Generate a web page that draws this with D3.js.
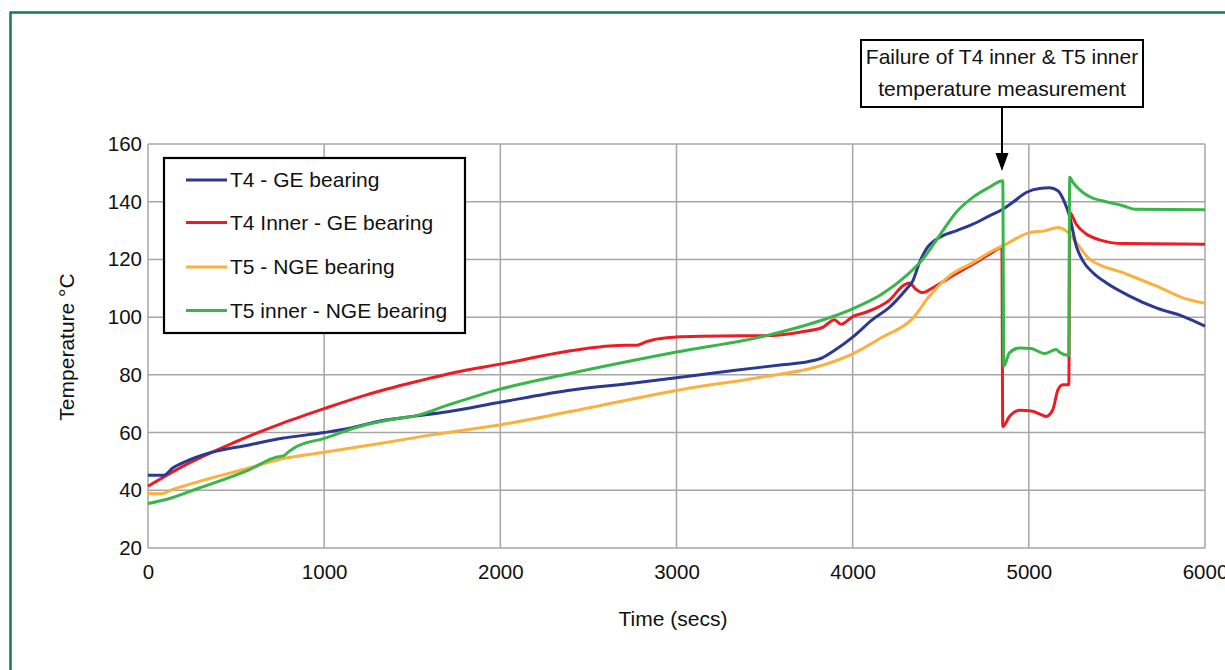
<!DOCTYPE html>
<html><head><meta charset="utf-8">
<script src="https://cdn.jsdelivr.net/npm/d3@7"></script>
<style>body{margin:0;background:#fff}svg{display:block;font-family:"Liberation Sans",Arial,sans-serif}</style>
</head><body><svg id="c" width="1225" height="670"></svg>
<script>
// ---- data ----
const seriesNames = ["T4 - GE bearing","T4 Inner - GE bearing","T5 - NGE bearing","T5 inner - NGE bearing"];
const seriesColors = ["#2b3990","#ed1c24","#fbb040","#3ab54a"];
const xTicks = [0,1000,2000,3000,4000,5000,6000];
const yTicks = [20,40,60,80,100,120,140,160];
const t4GE = [[0,45.2],[90,45.2],[140,47.7],[216,50],[348,52.9],[573,55.7],[761,58],[1000,60],[1137,61.4],[1325,64.1],[1513,65.7],[1701,67.2],[1983,70.3],[2383,74.6],[2759,77.2],[3000,79],[3323,81.5],[3600,83.5],[3750,84.6],[3830,86],[3900,88.6],[4000,93.1],[4114,99.2],[4210,103.5],[4303,109.6],[4341,112.5],[4379,118.9],[4417,123.5],[4492,127.6],[4587,129.9],[4682,132.2],[4776,135.1],[4852,137.4],[4909,139.8],[4985,143.2],[5061,144.6],[5117,144.8],[5165,143.8],[5203,139.8],[5231,135.1],[5269,124.7],[5307,119.5],[5364,115.4],[5439,111.9],[5572,107.3],[5723,103.2],[5875,100.3],[6000,96.9]];
const t4Inner = [[0,41.4],[197,48.3],[479,56.3],[761,63.2],[1000,68.3],[1231,72.9],[1513,77.5],[1795,81.5],[2008,83.8],[2383,88.2],[2665,90.2],[2778,90.3],[2830,91.5],[2863,92.1],[3000,93.1],[3135,93.4],[3511,93.6],[3699,94.8],[3831,96.5],[3897,99.1],[3934,97.5],[4000,100.2],[4075,101.7],[4207,105.8],[4293,111.2],[4322,111.8],[4360,109.6],[4398,108.5],[4455,110.2],[4549,113.7],[4682,118.3],[4776,121.8],[4847,124.1],[4852,62.1],[4890,65.6],[4947,67.7],[5013,67.5],[5060,66.5],[5098,65.6],[5136,67.9],[5165,74.8],[5193,76.6],[5227,76.6],[5232,136.3],[5269,132.2],[5326,128.8],[5401,126.8],[5534,125.5],[6000,125.3]];
const t5NGE = [[0,38.9],[75,38.8],[141,40.3],[291,43.1],[573,47.7],[761,50.9],[1000,53.2],[1325,56.3],[1607,59.2],[2008,62.8],[2383,67.1],[3000,74.6],[3511,79.5],[3793,82.7],[4000,87.3],[4169,93.1],[4338,99.4],[4436,107.3],[4549,114.3],[4682,118.9],[4776,122.4],[4871,125.3],[5004,129.3],[5089,129.9],[5165,131.1],[5212,129.9],[5269,125.9],[5345,120.1],[5534,115.4],[5723,110.8],[5875,106.7],[6000,104.8]];
const t5Inner = [[0,35.4],[103,36.8],[291,40.8],[573,47.1],[724,51.4],[771,52],[799,53.4],[827,54.6],[1000,58],[1231,62.6],[1419,64.9],[1513,65.7],[1701,69.5],[1983,74.8],[2383,80.3],[3000,87.9],[3511,93.6],[3793,98.3],[4000,102.9],[4169,108.1],[4303,114.3],[4398,120.1],[4492,128.2],[4587,136.3],[4682,141.5],[4776,145.0],[4852,147.3],[4858,83.0],[4890,87.6],[4947,89.3],[5013,89.1],[5089,87.4],[5155,88.8],[5174,87.8],[5227,86.7],[5232,148.5],[5250,146.7],[5307,143.2],[5364,141.2],[5439,140],[5534,138.6],[5600,137.4],[6000,137.2]];
const annotationLines = ["Failure of T4 inner & T5 inner","temperature measurement"];
const xTitle = "Time (secs)";
const yTitle = "Temperature °C";

// ---- drawing ----
const svg = d3.select("#c");
const x = d3.scaleLinear().domain([0,6000]).range([148,1205]);
const y = d3.scaleLinear().domain([20,160]).range([548,144]);

svg.append("rect").attr("x",10.5).attr("y",12.5).attr("width",1300).attr("height",800)
  .attr("fill","none").attr("stroke","#157a4c").attr("stroke-width",2.5);

const grid = svg.append("g").attr("stroke","#a6a6a6").attr("stroke-width",1.5);
xTicks.forEach(t=>grid.append("line").attr("x1",x(t)).attr("x2",x(t)).attr("y1",y(160)).attr("y2",y(20)));
yTicks.forEach(t=>grid.append("line").attr("x1",x(0)).attr("x2",x(6000)).attr("y1",y(t)).attr("y2",y(t)));

const xAxis = svg.append("g").attr("transform",`translate(0,${y(20)})`)
  .call(d3.axisBottom(x).tickValues(xTicks).tickSize(0).tickPadding(16).tickFormat(d3.format("d")));
const yAxis = svg.append("g").attr("transform",`translate(${x(0)},0)`)
  .call(d3.axisLeft(y).tickValues(yTicks).tickSize(0).tickPadding(6).tickFormat(d3.format("d")));
[xAxis,yAxis].forEach(a=>{a.select(".domain").remove();a.selectAll("text").attr("font-size",20.5).attr("fill","#111").attr("font-family","Liberation Sans, Arial, sans-serif");});

svg.append("text").attr("x",673).attr("y",626).attr("text-anchor","middle").attr("font-size",21).attr("fill","#111").text(xTitle);
svg.append("text").attr("transform","translate(74,347) rotate(-90)").attr("text-anchor","middle").attr("font-size",21).attr("fill","#111").text(yTitle);

const line = d3.line().x(d=>x(d[0])).y(d=>y(d[1])).curve(d3.curveMonotoneX);
const allSeries = [t4GE,t4Inner,t5NGE,t5Inner];
const order = [1,2,0,3];
order.forEach(i=>svg.append("path").attr("d",line(allSeries[i])).attr("fill","none")
  .attr("stroke",seriesColors[i]).attr("stroke-width",3).attr("stroke-linejoin","round"));

// legend
const lg = svg.append("g");
lg.append("rect").attr("x",164).attr("y",158).attr("width",301).attr("height",175).attr("fill","#fff").attr("stroke","#000").attr("stroke-width",2.2);
const rowY = [180,222.5,267,310.5];
seriesNames.forEach((n,i)=>{
  lg.append("line").attr("x1",186).attr("x2",227).attr("y1",rowY[i]).attr("y2",rowY[i]).attr("stroke",seriesColors[i]).attr("stroke-width",3);
  lg.append("text").attr("x",230).attr("y",rowY[i]).attr("dy","0.35em").attr("font-size",21).attr("fill","#111").text(n);
});

// annotation
svg.append("rect").attr("x",861).attr("y",40).attr("width",282).attr("height",67).attr("fill","#fff").attr("stroke","#000").attr("stroke-width",2);
annotationLines.forEach((t,i)=>svg.append("text").attr("x",1002).attr("y",57+i*32).attr("dy","0.35em").attr("text-anchor","middle").attr("font-size",21).attr("fill","#111").text(t));
svg.append("line").attr("x1",1002).attr("x2",1002).attr("y1",107).attr("y2",156).attr("stroke","#000").attr("stroke-width",2);
svg.append("path").attr("d","M995.5,153L1008.5,153L1002,171Z").attr("fill","#000");
</script></body></html>
